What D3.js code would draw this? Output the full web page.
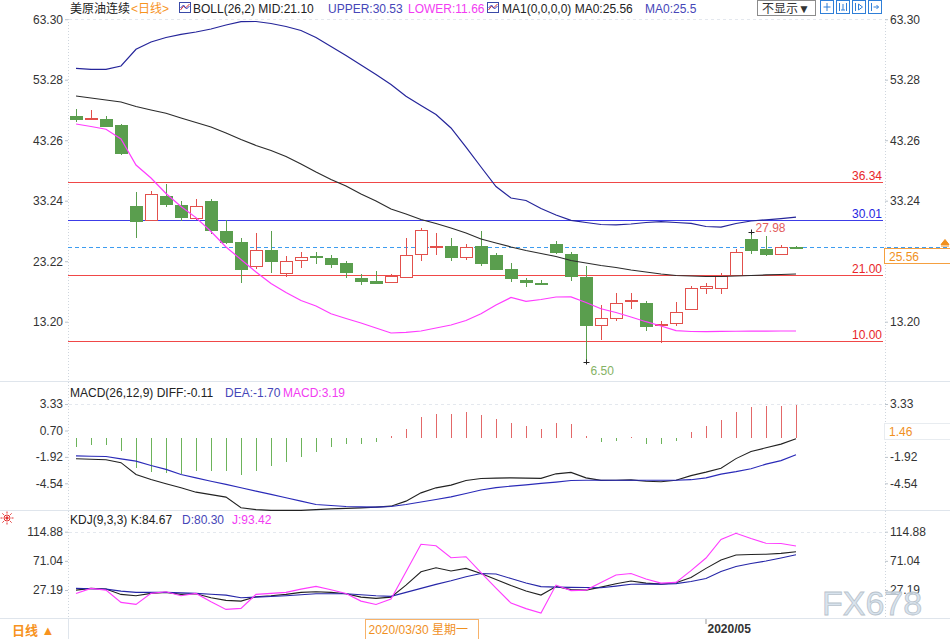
<!DOCTYPE html>
<html>
<head>
<meta charset="utf-8">
<script src="https://cdn.jsdelivr.net/npm/d3@7"></script>
<style>
body{margin:0;background:#fff;}
svg{display:block;font-family:"Liberation Sans","Noto Sans CJK SC",sans-serif;font-size:12px;}
</style>
</head>
<body>
<svg id="chart" width="950" height="639"></svg>
<script>
//trading days shown (daily bars)
var dates = ['2020-03-03','2020-03-04','2020-03-05','2020-03-06','2020-03-09','2020-03-10','2020-03-11','2020-03-12','2020-03-13','2020-03-16',
'2020-03-17','2020-03-18','2020-03-19','2020-03-20','2020-03-23','2020-03-24','2020-03-25','2020-03-26','2020-03-27','2020-03-30',
'2020-03-31','2020-04-01','2020-04-02','2020-04-03','2020-04-06','2020-04-07','2020-04-08','2020-04-09','2020-04-13','2020-04-14',
'2020-04-15','2020-04-16','2020-04-17','2020-04-20','2020-04-21','2020-04-22','2020-04-23','2020-04-24','2020-04-27','2020-04-28',
'2020-04-29','2020-04-30','2020-05-01','2020-05-04','2020-05-05','2020-05-06','2020-05-07','2020-05-08','2020-05-11'];

//candles
var openP = [47.24,46.70,46.70,45.70,32.40,30.10,34.06,32.57,30.36,33.23,28.25,26.42,22.44,25.10,21.30,23.43,24.00,23.80,22.88,20.50,
19.95,19.78,20.66,24.38,25.60,25.76,23.93,25.76,24.21,21.90,20.16,19.65,26.04,24.38,20.66,12.64,13.85,16.62,16.34,12.60,
12.92,15.24,18.73,18.73,20.89,26.97,25.21,24.48,25.62];
var highP = [48.35,48.20,47.35,45.97,34.60,34.80,36.00,33.23,33.60,33.45,30.03,27.04,27.97,28.30,24.00,24.80,24.80,24.26,23.27,21.06,
21.60,21.06,27.14,28.80,27.97,27.04,26.14,28.25,24.50,22.97,20.50,20.10,26.60,24.76,22.43,15.96,18.00,17.90,16.62,13.30,
16.50,19.10,19.66,21.32,25.20,27.98,27.42,25.90,25.80];
var lowP = [46.24,46.60,45.40,40.83,27.04,30.00,32.24,29.80,30.00,27.80,26.04,19.66,21.90,21.30,20.60,22.04,22.70,22.16,20.50,19.27,
19.60,19.66,20.50,23.27,24.20,23.27,23.40,22.44,21.72,19.78,19.00,19.20,24.38,19.95,6.50,10.10,13.30,15.34,11.64,9.70,
12.47,15.24,17.74,17.74,20.89,24.38,24.10,24.38,25.40];
var closeP = [46.80,46.90,45.58,41.16,29.80,34.35,32.70,30.46,32.35,28.37,26.42,21.90,25.10,23.27,23.27,23.93,23.85,22.72,21.49,19.95,
19.62,20.80,24.26,28.42,25.76,23.93,25.60,22.97,22.00,20.50,19.83,19.50,24.80,20.77,12.64,13.75,16.34,16.79,12.47,12.75,
14.85,18.73,19.11,20.77,24.81,25.04,24.48,25.64,25.56];

//BOLL(26,2)
var bollUpper = [55.17,55.00,55.00,55.55,58.31,59.52,60.27,60.80,61.18,61.68,62.34,62.89,62.92,62.59,62.09,61.43,60.27,58.78,57.29,55.71,
54.14,52.49,50.55,49.01,47.52,45.28,42.13,38.82,35.59,33.69,33.27,31.95,30.87,29.98,29.63,29.30,29.22,29.38,29.63,29.76,
29.63,29.48,28.97,28.88,29.46,29.88,30.08,30.28,30.53];
var bollMid = [50.58,50.25,49.92,49.59,48.84,48.26,47.72,46.94,46.19,45.45,44.45,43.38,42.38,41.55,40.56,39.32,37.99,36.75,35.67,34.35,
33.19,31.87,31.04,30.13,29.46,28.72,27.89,26.90,26.23,25.57,24.99,24.50,24.00,23.34,22.92,22.51,22.18,21.76,21.43,21.10,
20.85,20.77,20.69,20.69,20.77,20.85,20.94,21.02,21.10];
var bollLower = [45.94,45.53,45.07,43.46,39.15,37.00,34.43,32.28,30.44,28.14,25.57,23.50,21.43,19.53,18.04,16.71,15.80,14.51,13.73,12.99,
12.16,11.33,11.44,11.66,12.16,12.65,13.40,14.51,15.97,17.21,16.58,16.88,17.29,17.32,16.38,15.35,14.72,13.98,13.20,12.49,
11.71,11.58,11.55,11.60,11.62,11.64,11.65,11.66,11.66];

//MACD(26,12,9)
var macdBar = [-0.90,-0.75,-0.75,-1.35,-3.00,-3.40,-3.50,-3.60,-3.27,-3.33,-3.33,-3.73,-3.27,-2.83,-2.44,-1.94,-1.42,-0.92,-0.68,-0.62,
-0.46,0.12,0.80,2.02,2.29,2.29,2.52,2.22,1.86,1.46,1.13,0.80,1.46,1.30,0.14,-0.42,-0.36,0.05,-0.60,-0.62,
-0.36,0.57,1.13,1.70,2.52,3.00,3.10,3.10,3.19];
var macdDiff = [-2.11,-2.16,-2.21,-2.49,-3.66,-4.16,-4.59,-4.99,-5.42,-5.66,-5.91,-6.97,-7.15,-7.23,-7.23,-7.23,-7.15,-7.08,-7.03,-6.98,
-6.90,-6.81,-6.31,-5.49,-4.99,-4.72,-4.26,-4.06,-4.03,-4.00,-4.03,-4.05,-3.60,-3.46,-4.00,-4.25,-4.23,-4.20,-4.33,-4.38,
-4.23,-3.78,-3.43,-3.04,-2.09,-1.38,-1.02,-0.65,-0.11];
var macdDea = [-1.82,-1.85,-1.88,-2.12,-2.34,-2.77,-3.16,-3.66,-4.00,-4.33,-4.65,-4.99,-5.32,-5.64,-5.98,-6.31,-6.64,-6.74,-6.84,-6.88,
-6.90,-6.84,-6.64,-6.39,-6.14,-5.89,-5.56,-5.21,-4.97,-4.82,-4.70,-4.55,-4.42,-4.26,-4.23,-4.23,-4.23,-4.23,-4.23,-4.23,
-4.23,-4.18,-4.00,-3.63,-3.38,-3.09,-2.64,-2.29,-1.70];

//KDJ(9,3,3)
var kdjK = [27.05,29.61,28.56,20.57,18.46,22.08,23.59,20.57,21.48,15.45,11.53,10.48,16.96,18.46,20.57,23.59,24.49,23.59,21.48,16.51,
14.55,16.51,34.58,54.62,60.65,55.68,59.74,51.91,42.87,33.83,25.55,19.52,32.33,27.81,27.05,31.57,36.54,40.61,37.60,36.09,
38.05,45.88,59.74,72.37,79.78,80.53,80.98,82.34,84.67];
var kdjD = [29.61,29.16,28.56,25.55,23.59,23.59,23.59,22.84,22.08,20.73,19.52,15.50,16.51,17.41,18.46,19.97,21.48,21.48,21.48,19.97,
18.46,17.56,23.59,29.61,35.64,41.06,47.09,51.91,51.16,44.38,37.60,32.33,31.57,31.12,30.97,30.67,33.08,35.79,36.09,36.09,
36.84,39.86,44.38,54.92,62.46,66.97,70.74,75.26,80.30];
var kdjJ = [22.08,29.61,27.05,8.52,5.51,22.08,24.49,18.46,22.08,9.43,-2.02,-0.52,20.57,22.08,23.59,28.56,32.63,27.50,22.08,10.48,
5.51,13.49,54.62,95.90,93.79,75.71,77.22,53.41,30.07,7.47,-0.81,-7.60,34.58,26.30,27.05,38.35,49.65,51.91,43.62,37.60,
38.65,56.43,75.26,103.13,112.47,104.64,97.41,97.11,93.42];

//horizontal price levels drawn on the main panel
var levelValues = [36.34, 30.01, 21.00, 10.00];
var levelColors = ['#f04848', '#3c3ce8', '#f04848', '#f04848'];
var levelTextColors = ['#e8262a', '#2626e0', '#e8262a', '#e8262a'];

//tick labels
var mainTicks = [63.30, 53.28, 43.26, 33.24, 23.22, 13.20];
var mainTicksRight = [63.30, 53.28, 43.26, 33.24, 13.20];
var macdTicks = [3.33, 0.70, -1.92, -4.54];
var macdTicksRight = [3.33, -1.92, -4.54];
var kdjTicks = [114.88, 71.04, 27.19];
var lastMacdMark = 1.46;
var highMark = 27.98, lowMark = 6.50;
var crossDate = '2020-03-30';
var monthDate = '2020-05-01';

var svg = d3.select('#chart');
svg.append('rect').attr('width', 950).attr('height', 639).attr('fill', '#fff');

var red = '#e2504c', green = '#5a9e4e';
//plain hyphen minus like the terminal does
function f2(v) { return (+v).toFixed(2); }

//scales
var x = d3.scaleBand().domain(dates).range([68.5, 803.5]);
function cx(d) { return Math.round(x(d) + x.bandwidth() / 2) + 0.5; }
var yMain = d3.scaleLinear().domain([13.20, 63.30]).range([321.7, 19.2]);
var yMacd = d3.scaleLinear().domain([-4.54, 3.33]).range([483.3, 404]);
var yKdj = d3.scaleLinear().domain([27.19, 114.88]).range([590, 531.7]);

//panel frames
var grid = svg.append('g');
[381.5, 510.5, 618.5].forEach(function (yy) {
    grid.append('line').attr('x1', 0).attr('x2', 950).attr('y1', yy).attr('y2', yy)
        .attr('stroke', '#dfe5ec');
});
grid.append('line').attr('x1', 68.5).attr('x2', 68.5).attr('y1', 19).attr('y2', 618)
    .attr('stroke', '#cfd6de').attr('stroke-dasharray', '1,2');
grid.append('line').attr('x1', 68.5).attr('x2', 68.5).attr('y1', 618).attr('y2', 639)
    .attr('stroke', '#dfe5ec');
grid.append('line').attr('x1', 885.5).attr('x2', 885.5).attr('y1', 19).attr('y2', 618)
    .attr('stroke', '#cfd6de').attr('stroke-dasharray', '1,2');
[yMain(mainTicks[0]), yMacd(macdTicks[0]), yKdj(kdjTicks[0])].forEach(function (yy) {
    grid.append('line').attr('x1', 69).attr('x2', 885).attr('y1', Math.round(yy) + 0.5).attr('y2', Math.round(yy) + 0.5)
        .attr('stroke', '#e4e8ee').attr('stroke-dasharray', '3,3');
});

//axes
function styleAxis(g) {
    g.select('.domain').remove();
    g.selectAll('.tick line').attr('stroke', '#bcc4cc');
    g.selectAll('.tick text').attr('fill', '#333').attr('font-size', 12)
        .attr('font-family', '"Liberation Sans",sans-serif');
}
function leftAxis(scale, ticks) {
    svg.append('g').attr('transform', 'translate(68,0)')
        .call(d3.axisLeft(scale).tickValues(ticks).tickFormat(f2).tickSize(3).tickPadding(2))
        .call(styleAxis);
}
function rightAxis(scale, ticks) {
    svg.append('g').attr('transform', 'translate(885,0)')
        .call(d3.axisRight(scale).tickValues(ticks).tickFormat(f2).tickSize(3).tickPadding(2))
        .call(styleAxis);
}
leftAxis(yMain, mainTicks); rightAxis(yMain, mainTicksRight);
leftAxis(yMacd, macdTicks); rightAxis(yMacd, macdTicksRight);
leftAxis(yKdj, kdjTicks); rightAxis(yKdj, kdjTicks);

//price levels
var lev = svg.append('g');
levelValues.forEach(function (v, i) {
    var yy = Math.round(yMain(v)) + 0.5;
    lev.append('line').attr('x1', 68).attr('x2', 883).attr('y1', yy).attr('y2', yy)
        .attr('stroke', levelColors[i]).attr('stroke-width', 1.2);
    lev.append('text').attr('x', 882).attr('y', yy - 3).attr('text-anchor', 'end')
        .attr('fill', levelTextColors[i]).text(f2(v));
});

//last price dashed line + marker box
var lastPrice = closeP[closeP.length - 1];
var yLast = Math.round(yMain(lastPrice)) + 0.5;
svg.append('line').attr('x1', 68).attr('x2', 948).attr('y1', yLast).attr('y2', yLast)
    .attr('stroke', '#3d9cf0').attr('stroke-dasharray', '4,3');
svg.append('rect').attr('x', 884.5).attr('y', yLast + 1).attr('width', 70).attr('height', 15)
    .attr('fill', '#fff').attr('stroke', '#f5a040');
svg.append('text').attr('x', 889).attr('y', yLast + 13).attr('fill', '#f0901e').text(f2(lastPrice));
svg.append('path').attr('d', 'M941,' + (yLast - 3) + 'L945,' + (yLast - 8) + 'L949,' + (yLast - 3) + 'Z M941,' + (yLast - 1.5) + 'H949')
    .attr('fill', '#f0901e').attr('stroke', '#f0901e').attr('stroke-width', 1);

//candles
var cg = svg.append('g').attr('shape-rendering', 'crispEdges');
dates.forEach(function (d, i) {
    var up = closeP[i] >= openP[i];
    var col = up ? red : green;
    var c = cx(d);
    var top = Math.round(yMain(Math.max(openP[i], closeP[i])));
    var bot = Math.round(yMain(Math.min(openP[i], closeP[i])));
    cg.append('line').attr('x1', c).attr('x2', c)
        .attr('y1', yMain(highP[i])).attr('y2', yMain(lowP[i])).attr('stroke', col);
    cg.append('rect').attr('x', c - 6).attr('y', top + 0.5)
        .attr('width', 12).attr('height', Math.max(1, bot - top))
        .attr('fill', up ? '#fff' : green).attr('stroke', col);
});

//BOLL lines
function drawLine(data, scale, color, w) {
    svg.append('path').datum(data)
        .attr('d', d3.line().x(function (v, i) { return x(dates[i]) + x.bandwidth() / 2; }).y(function (v) { return scale(v); }))
        .attr('fill', 'none').attr('stroke', color).attr('stroke-width', w || 1.2);
}
drawLine(bollUpper, yMain, '#25259a');
drawLine(bollMid, yMain, '#2c2c2c');
drawLine(bollLower, yMain, '#ff3cff');

//high / low markers
var iHigh = highP.indexOf(highMark), iLow = lowP.indexOf(lowMark);
function crossMark(xx, yy) {
    svg.append('path').attr('d', 'M' + (xx - 3) + ',' + yy + 'H' + (xx + 3) + 'M' + xx + ',' + (yy - 3) + 'V' + (yy + 2))
        .attr('stroke', '#222').attr('stroke-width', 1);
}
crossMark(cx(dates[iHigh]), Math.round(yMain(highMark)) + 0.5);
svg.append('text').attr('x', cx(dates[iHigh]) + 4).attr('y', yMain(highMark))
    .attr('fill', '#e25c5c').text(f2(highMark));
crossMark(cx(dates[iLow]), Math.round(yMain(lowMark)) + 0.5);
svg.append('text').attr('x', cx(dates[iLow]) + 4).attr('y', yMain(lowMark) + 13)
    .attr('fill', '#84b264').text(f2(lowMark));

//MACD histogram
var mg = svg.append('g').attr('shape-rendering', 'crispEdges');
dates.forEach(function (d, i) {
    var v = macdBar[i];
    mg.append('line').attr('x1', cx(d)).attr('x2', cx(d))
        .attr('y1', yMacd(0)).attr('y2', yMacd(v))
        .attr('stroke', v >= 0 ? '#e36868' : '#6cb35a');
});
drawLine(macdDiff, yMacd, '#222', 1.1);
drawLine(macdDea, yMacd, '#2a2ab8', 1.1);
var yM = Math.round(yMacd(lastMacdMark)) + 0.5;
svg.append('rect').attr('x', 884.5).attr('y', yM).attr('width', 70).attr('height', 16)
    .attr('fill', '#fff').attr('stroke', '#e8ecf0');
svg.append('text').attr('x', 889).attr('y', yM + 12).attr('fill', '#f0901e').text(f2(lastMacdMark));

//KDJ
drawLine(kdjK, yKdj, '#222', 1.1);
drawLine(kdjD, yKdj, '#2626a8', 1.1);
drawLine(kdjJ, yKdj, '#ff3cff', 1.1);

//legends
function legend(yy, parts) {
    var t = svg.append('text').attr('y', yy);
    parts.forEach(function (p) { t.append('tspan').attr('x', p[0]).attr('fill', p[2]).text(p[1]); });
}
var n = dates.length - 1;
legend(13, [[70, '美原油连续', '#222'], [131, '<日线>', '#f7931e'],
    [193, 'BOLL(26,2) MID:' + f2(bollMid[n]), '#222'], [328, 'UPPER:' + f2(bollUpper[n]), '#4646b8'],
    [408, 'LOWER:' + f2(bollLower[n]), '#f23cf2'], [502, 'MA1(0,0,0,0) MA0:' + f2(closeP[n]), '#222'],
    [645, 'MA0:25.5', '#4646b8']]);
legend(397, [[70, 'MACD(26,12,9) DIFF:' + f2(macdDiff[n]), '#222'], [225, 'DEA:' + f2(macdDea[n]), '#4646b8'],
    [283, 'MACD:' + f2(macdBar[n]), '#f23cf2']]);
legend(524, [[70, 'KDJ(9,3,3) K:' + f2(kdjK[n]), '#222'], [182, 'D:' + f2(kdjD[n]), '#4646b8'],
    [232, 'J:' + f2(kdjJ[n]), '#f23cf2']]);

//small chart icons in the legend
[179.5, 487.5].forEach(function (ix) {
    svg.append('rect').attr('x', ix).attr('y', 2.5).attr('width', 11).attr('height', 10)
        .attr('fill', '#fff').attr('stroke', '#3a4aa8');
    svg.append('path').attr('d', 'M' + (ix + 1) + ',10L' + (ix + 4) + ',6L' + (ix + 6) + ',8L' + (ix + 10) + ',4')
        .attr('fill', 'none').attr('stroke', '#d03030');
    svg.append('path').attr('d', 'M' + (ix + 1) + ',8L' + (ix + 4) + ',5L' + (ix + 7) + ',9L' + (ix + 10) + ',6')
        .attr('fill', 'none').attr('stroke', '#3040c0');
});

//top-right controls
svg.append('rect').attr('x', 757.5).attr('y', 0.5).attr('width', 58).attr('height', 15)
    .attr('fill', '#fff').attr('stroke', '#8c8c8c');
svg.append('text').attr('x', 762).attr('y', 12.5).attr('fill', '#333').text('不显示▼');
[820.5, 836.5, 852.5, 868.5].forEach(function (ix, k) {
    var g = svg.append('g').attr('stroke', '#2f7fd8').attr('fill', 'none');
    g.append('rect').attr('x', ix).attr('y', 0.5).attr('width', 13).attr('height', 13);
    var p = [
        'M' + (ix + 6.5) + ',3V11M' + (ix + 3) + ',7H' + (ix + 10),
        'M' + (ix + 3) + ',3V11M' + (ix + 10) + ',3V11M' + (ix + 6.5) + ',4V10M' + (ix + 4.5) + ',10H' + (ix + 8.5),
        'M' + (ix + 3) + ',3V11M' + (ix + 6) + ',4V10L' + (ix + 10) + ',7Z',
        'M' + (ix + 3) + ',3V11M' + (ix + 5) + ',7H' + (ix + 10) + 'M' + (ix + 8) + ',5L' + (ix + 10) + ',7L' + (ix + 8) + ',9'
    ][k];
    g.append('path').attr('d', p);
});

//sun icon in KDJ panel
var sun = svg.append('g').attr('stroke', '#e23030').attr('fill', 'none');
sun.append('circle').attr('cx', 7).attr('cy', 518).attr('r', 3);
sun.append('circle').attr('cx', 7).attr('cy', 518).attr('r', 1.2).attr('fill', '#e23030');
d3.range(8).forEach(function (k) {
    var a = k * Math.PI / 4;
    sun.append('line').attr('x1', 7 + Math.cos(a) * 4.5).attr('y1', 518 + Math.sin(a) * 4.5)
        .attr('x2', 7 + Math.cos(a) * 6.5).attr('y2', 518 + Math.sin(a) * 6.5);
});

//bottom bar
svg.append('text').attr('x', 12).attr('y', 635).attr('fill', '#f7931e')
    .attr('font-size', 13).attr('font-weight', 'bold').text('日线 ▲');
var wk = ['星期日', '星期一', '星期二', '星期三', '星期四', '星期五', '星期六'];
var cd = new Date(crossDate + 'T00:00:00');
var cxx = cx(crossDate) + 4;
svg.append('rect').attr('x', cxx).attr('y', 619.5).attr('width', 113).attr('height', 20)
    .attr('fill', '#fff').attr('stroke', '#f7b26a');
svg.append('text').attr('x', cxx + 3).attr('y', 634).attr('fill', '#f0901e')
    .text(crossDate.replace(/-/g, '/') + ' ' + wk[cd.getDay()]);
var mx = cx(monthDate);
svg.append('line').attr('x1', mx - 0.5).attr('x2', mx - 0.5).attr('y1', 619).attr('y2', 624).attr('stroke', '#999');
svg.append('text').attr('x', mx + 1).attr('y', 633).attr('fill', '#333').attr('font-weight', 'bold')
    .text(monthDate.slice(0, 7).replace('-', '/'));

//watermark (sits over the 27.19 label as in the terminal screenshot)
svg.append('text').attr('x', 822).attr('y', 615).attr('font-size', 34)
    .attr('fill', '#d3dfec').attr('fill-opacity', 0.9).attr('stroke', '#b9c3cc').attr('stroke-width', 0.8).text('FX678');
</script>
</body>
</html>
